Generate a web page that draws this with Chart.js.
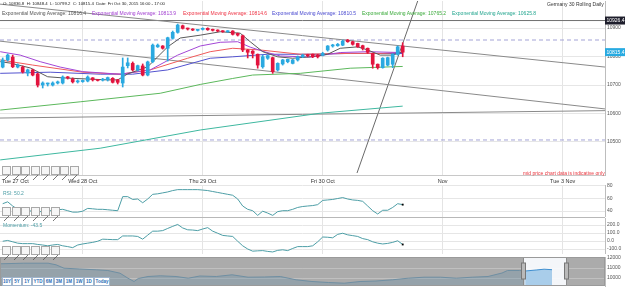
<!DOCTYPE html>
<html>
<head>
<meta charset="utf-8">
<script src="https://cdn.jsdelivr.net/npm/chart.js@4.4.0/dist/chart.umd.min.js"></script>
<style>
body { margin: 0; background: #fff; font-family: "Liberation Sans", Arial, sans-serif; }
#wrap { position: relative; width: 625px; height: 295px; overflow: hidden; }
canvas { position: absolute; left: 0; }
.t { position: absolute; white-space: nowrap; font-size: 5px; line-height: 6px; }
.sep { position: absolute; left: 0; width: 605px; background: #b8b8b8; }
.tool { position: absolute; width: 7px; height: 7px; border: 1px solid #a8a8a8; background: #f6f6f6; }
.btn { position: absolute; top: 277px; height: 7px; border: 1px solid #9fb4cc; background: #fff; color: #2a6db5; font-size: 4.5px; line-height: 7px; text-align: center; font-weight: bold; }
</style>
</head>
<body>
<div id="wrap">
  <canvas id="main" width="625" height="187" style="top:0"></canvas>
  <canvas id="rsi" width="625" height="36" style="top:181px"></canvas>
  <canvas id="mom" width="625" height="40" style="top:214px"></canvas>
  <canvas id="nav" width="625" height="42" style="top:253px"></canvas>
  <div class="sep" style="top:217px;height:1px"></div>

  <div class="t" style="left:3px;top:1px;color:#222;font-size:4.3px">O: 10836.8 &nbsp;H: 10848.4 &nbsp;L: 10799.2 &nbsp;C: 10815.4 &nbsp;Date: Fri Oct 30, 2015 16:00 - 17:00</div>
  <div class="t" style="left:547px;top:1px;color:#333">Germany 30 Rolling Daily</div>
  <div class="t" style="left:2px;top:10px;color:#555">Exponential Moving Average: 10816.4</div>
  <div class="t" style="left:92px;top:10px;color:#a03cd0">Exponential Moving Average: 10813.9</div>
  <div class="t" style="left:183px;top:10px;color:#ee3344">Exponential Moving Average: 10814.6</div>
  <div class="t" style="left:272px;top:10px;color:#4a4ad0">Exponential Moving Average: 10810.5</div>
  <div class="t" style="left:362px;top:10px;color:#3aaa3a">Exponential Moving Average: 10765.2</div>
  <div class="t" style="left:452px;top:10px;color:#22a58e">Exponential Moving Average: 10625.8</div>
  <div class="t" style="left:523px;top:170px;color:#e8343c">mid price chart data is indicative only</div>
  <div class="t" style="left:3px;top:190px;color:#4d9ea6">RSI: 50.2</div>
  <div class="t" style="left:3px;top:222px;color:#4d9ea6">Momentum: -43.5</div>
  <div id="tools"></div>
</div>

<script>
Chart.defaults.font.family = '"Liberation Sans", Arial, sans-serif';

// hourly candles, Tue 27 Oct - Fri 30 Oct 2015 (index = candle number)
const opens = [10763, 10788, 10798, 10763, 10763, 10742, 10753, 10739, 10700, 10703.5,
  10700, 10707, 10707, 10728, 10721, 10711, 10712, 10714, 10725, 10718,
  10717, 10718, 10723.5, 10718, 10707, 10768, 10776, 10753, 10767, 10735,
  10782, 10834, 10837, 10829, 10864, 10885, 10908, 10898, 10896.5, 10892,
  10895.4, 10899, 10895.4, 10893, 10889.5, 10887, 10889.5, 10881, 10873, 10823,
  10819, 10808, 10764, 10794, 10796, 10753, 10774, 10782, 10776, 10788,
  10799, 10805, 10808, 10805, 10805, 10823, 10837, 10838, 10840, 10858,
  10852, 10846, 10838, 10829, 10811, 10773, 10761, 10770, 10773, 10808, 10836.8];
const highs = [10795, 10809, 10805, 10774, 10767, 10756, 10756, 10742, 10711, 10707,
  10711, 10714, 10732, 10730, 10725, 10718, 10718, 10732, 10726, 10720,
  10723.5, 10728, 10726, 10720, 10795, 10795, 10781, 10770, 10774, 10784,
  10844, 10844, 10838.5, 10868, 10889.5, 10914, 10910.5, 10900, 10898, 10895.4,
  10901, 10901, 10896.5, 10894, 10891, 10891, 10891, 10882.5, 10875.4, 10824.5,
  10821, 10809, 10805, 10805, 10798, 10778, 10790, 10791, 10790, 10802,
  10808, 10808, 10809, 10808, 10815, 10838.5, 10843, 10846, 10858, 10860,
  10854, 10847, 10840, 10830, 10812, 10774, 10796, 10798, 10810, 10837, 10848.4];
const lows = [10760, 10784, 10761, 10760, 10742, 10732, 10732, 10693, 10689.5, 10696.5,
  10696.5, 10703.5, 10703.5, 10721, 10707, 10707, 10709.5, 10711, 10714, 10714,
  10714, 10714, 10707, 10703.5, 10693, 10760, 10749, 10749, 10732, 10732,
  10778, 10832, 10826, 10784, 10861, 10882, 10896.5, 10893, 10891, 10889.5,
  10893, 10892, 10889.5, 10887, 10885, 10885, 10875.4, 10872, 10817, 10795,
  10795, 10759, 10759, 10790, 10741, 10749, 10770, 10778, 10774, 10784,
  10796, 10799, 10796, 10795, 10802, 10819, 10833, 10836, 10838, 10850,
  10840, 10832, 10823, 10811, 10759, 10756, 10759, 10767, 10761, 10805, 10799.2];
const closes = [10788, 10805, 10764, 10770, 10746, 10753, 10735, 10700, 10707, 10705,
  10707, 10711, 10728, 10725, 10711, 10714, 10716, 10728, 10718, 10716,
  10720, 10726, 10709.5, 10709.5, 10763, 10778, 10753, 10768, 10735, 10781,
  10840, 10840, 10829, 10866, 10885, 10910.5, 10899, 10896.5, 10893, 10894,
  10899, 10894, 10892, 10889.5, 10887, 10889.5, 10878, 10875.4, 10823, 10815,
  10811, 10770, 10799, 10803, 10747, 10776, 10788, 10790, 10788, 10799,
  10805, 10803, 10799, 10799, 10811, 10837, 10840, 10843, 10854, 10852,
  10843, 10834, 10829, 10815, 10773, 10761, 10794, 10796, 10808, 10834, 10815.4];

// moving averages, read at candle positions
const emaGrayX = [-0.5, 1.5, 5.5, 9, 12, 17, 21, 23, 25, 29, 31, 33, 35.5, 39.5, 43.5, 47.5, 49.5, 52, 55, 58, 61.5, 65, 67.5, 71, 73, 75.5, 78, 80];
const emaGray = [10782, 10777, 10760, 10729, 10725, 10721, 10718, 10718, 10739, 10764, 10799, 10834, 10865, 10875, 10887, 10882, 10852, 10817, 10799, 10794, 10799, 10808, 10829, 10834, 10823, 10805, 10805, 10816.4];
const emaPurpleX = [-0.5, 3.5, 7.5, 11.5, 16, 23.5, 29.5, 35, 39.5, 43.5, 47, 49.5, 52.5, 55.5, 61.5, 67.5, 73, 80];
const emaPurple = [10817, 10805, 10782, 10763, 10747, 10738, 10753, 10805, 10837, 10850, 10852, 10833, 10816, 10802, 10798, 10814, 10817, 10813.9];
const emaRedX = [-0.5, 6, 16, 23.5, 29.5, 37, 41.5, 46, 51.5, 59.5, 69.5, 76, 80];
const emaRed = [10788, 10770, 10745, 10738, 10753, 10794, 10817, 10829, 10823, 10808, 10811, 10811, 10814.6];
const emaBlueX = [-0.5, 9.5, 19.5, 26, 33, 41.5, 46, 53, 63, 69.5, 80];
const emaBlue = [10741, 10745, 10738, 10738, 10753, 10794, 10799, 10808, 10808, 10811, 10810.5];
const emaGreenX = [-0.5, 15.5, 31.5, 39.5, 46, 50, 59.5, 69.5, 80];
const emaGreen = [10612, 10641, 10671, 10702, 10723, 10735, 10741, 10759, 10765.2];
const emaTealX = [-0.5, 19.5, 39.5, 63.5, 80];
const emaTeal = [10437, 10478, 10542, 10601, 10625.8];

// drawn trend lines [candle index, price]
const trendA = [[-0.54, 10984], [120.46, 10763]];
const trendB = [[-0.54, 10854], [120.46, 10616]];
const trendC = [[-0.54, 10584], [120.46, 10610]];
const trendD = [[70.86, 10391], [83.06, 10998]];
const hLevel = 10926.4;
const dashedLevels = [10858, 10507];

// indicators, one value per candle
const rsi = [51.7, 54.7, 48, 42.7, 40.5, 40.5, 39.7, 38.2, 39.7, 40.5,
  40.5, 42, 42.7, 40.5, 38.2, 38.2, 39.7, 44.2, 43.5, 42.7,
  42.7, 42, 41.2, 40.5, 63, 63, 58.5, 59.2, 53.2, 59.2,
  66.7, 67.5, 69, 70.5, 72.7, 74.2, 74.2, 74.2, 74.2, 74.2,
  73.5, 72.7, 71.2, 69.7, 68.2, 66.7, 65.2, 59.2, 48, 42.7,
  40.5, 33, 39.7, 36.7, 33, 39, 40.5, 40.5, 42.7, 45.7,
  47.2, 48, 48.7, 50.2, 57, 57.7, 58.5, 60, 61.5, 59.2,
  57.7, 57, 55.5, 48, 40.5, 35.2, 41.2, 41.2, 45.7, 51.7, 50.2];
const momentum = [-3, 7, -10, -27, -33, -33, -33, -43, -50, -60,
  -50, -43, -60, -70, -83, -50, -37, -27, -17, -3,
  23, 20, 17, 17, 63, 63, 63, 57, 23, 73,
  123, 123, 130, 157, 183, 207, 163, 140, 137, 130,
  150, 167, 123, 97, 70, 63, 57, -3, -60, -100,
  -127, -123, -120, -130, -137, -117, -110, -120, -93, -70,
  -70, -70, -60, -10, 50, 47, 40, 83, 97, 77,
  67, 57, 30, 17, -10, -27, -37, -30, -17, 3, -43.5];

// navigator: days since 1 Aug 2015, daily level
const navDays = [1.1, 5, 9, 10.3, 11.6, 14.2, 16.9, 18.8, 20.8, 22.1, 23.1, 23.8, 25.4, 27.4, 30, 32, 33.9, 36.6, 39.2, 41.8,
  44.5, 47.1, 49.7, 52.3, 55, 57.6, 60.2, 62.8, 65.5, 68.1, 70.7, 73.4, 76, 78.6, 81.2, 83.5, 84.4, 86.4, 87.3, 89.1, 90.4, 91.7];
const navVals = [11420, 11480, 11480, 11320, 10980, 10900, 10820, 10750, 10480, 9980, 9650, 9950, 10150, 10220, 10150, 9980, 10200, 10150, 10320, 10080,
  10100, 10150, 9820, 9650, 9550, 9480, 9650, 9700, 9820, 9980, 10080, 10080, 9980, 10080, 10150, 10500, 10750, 10750, 10700, 10800, 10880, 10830];
const navWindow = [87, 94];

// axis ticks and labels
const dayTicks = [2.5, 16, 40, 64, 88, 112];
const dayLabels = ['Tue 27 Oct', 'Wed 28 Oct', 'Thu 29 Oct', 'Fri 30 Oct', 'Nov', 'Tue 3 Nov'];
const priceTicks = [10500, 10600, 10700, 10800, 10900];
const rsiTicks = [40, 60, 80];
const momTicks = [-100, 0, 100, 200];
const navTicks = [10000, 11000, 12000];
const navDateTicks = [2, 8, 15, 22, 31, 36, 43, 50, 57, 61, 64, 71, 78, 85, 92, 99];
const navDateLabels = ['2015', '9-Aug', '16-Aug', '23-Aug', 'Sep', '6-Sep', '13-Sep', '20-Sep', '27-Sep', 'Oct', '4-Oct', '11-Oct', '18-Oct', '25-Oct', 'Nov', '8-Nov'];

const UP = '#2aa9e0', DOWN = '#e2143e', TEAL = '#4d9ea6';
const xMin = -0.54, xMax = 120.46;
const idx = closes.map((c, i) => i);

function pts(xs, ys) { return xs.map((x, k) => ({ x: x, y: ys[k] })); }
function seg(p) { return p.map(q => ({ x: q[0], y: q[1] })); }
function line(data, color, extra) {
  return Object.assign({ type: 'line', data: data, borderColor: color, borderWidth: 1, pointRadius: 0, tension: 0, fill: false, order: 5 }, extra || {});
}
// no extra room for the edge labels, the panels sit flush
function noPad(s) { s.paddingTop = 0; s.paddingBottom = 0; s.paddingLeft = 0; s.paddingRight = 0; }

function xScale(show, h) {
  return {
    type: 'linear', min: xMin, max: xMax, offset: false,
    afterBuildTicks: s => { s.ticks = dayTicks.map(v => ({ value: v })); },
    afterFit: s => { s.height = h; noPad(s); },
    grid: { color: c => (c.tick && c.tick.value === dayTicks[0]) ? 'rgba(0,0,0,0)' : '#e4e4e4', drawTicks: false, offset: false },
    border: { display: show, color: '#c8c8c8' },
    ticks: { display: show, autoSkip: false, maxRotation: 0, padding: 3, color: '#333', font: { size: 5.5 },
      callback: v => dayLabels[dayTicks.indexOf(v)] }
  };
}
function yScale(min, max, ticks, fmt) {
  return {
    position: 'right', min: min, max: max,
    afterBuildTicks: s => { s.ticks = ticks.map(v => ({ value: v })); },
    afterFit: s => { s.width = 20; noPad(s); },
    grid: { color: '#e6e6e6', drawTicks: false },
    border: { color: '#bdbdbd' },
    ticks: { padding: 2, color: '#555', font: { size: 5 }, callback: fmt }
  };
}
function opts(top, scales) {
  return {
    responsive: false, animation: false,
    layout: { padding: { top: top, left: 0, right: 0, bottom: 0 }, autoPadding: false },
    plugins: { legend: { display: false }, tooltip: { enabled: false } },
    scales: scales
  };
}

// price boxes on the right axis
const priceTags = {
  id: 'priceTags',
  afterDraw(chart) {
    const { ctx, chartArea, scales } = chart;
    [[hLevel, '#1e1e2c'], [closes[closes.length - 1], '#27aae1']].forEach(t => {
      const py = scales.y.getPixelForValue(t[0]);
      ctx.save();
      ctx.fillStyle = t[1];
      ctx.fillRect(chartArea.right, py - 4, 20, 8);
      ctx.fillStyle = '#fff';
      ctx.font = '5px "Liberation Sans"';
      ctx.textBaseline = 'middle';
      ctx.fillText(t[0].toFixed(1), chartArea.right + 1.5, py + 0.5);
      ctx.restore();
    });
  }
};

const candleColor = i => closes[i] >= opens[i] ? UP : DOWN;

new Chart(document.getElementById('main'), {
  type: 'bar',
  data: {
    datasets: [
      { data: idx.map(i => ({ x: i, y: [opens[i], closes[i]] })), backgroundColor: idx.map(candleColor),
        barThickness: 3, minBarLength: 1, grouped: false, order: 0 },
      { data: idx.map(i => ({ x: i, y: [lows[i], highs[i]] })), backgroundColor: idx.map(candleColor),
        barThickness: 1, grouped: false, order: 1 },
      line(pts(emaGrayX, emaGray), '#5a5a5a', { order: 2 }),
      line(pts(emaPurpleX, emaPurple), '#a347d6', { order: 3 }),
      line(pts(emaRedX, emaRed), '#f05a5a', { order: 3 }),
      line(pts(emaBlueX, emaBlue), '#5353cf', { order: 3 }),
      line(pts(emaGreenX, emaGreen), '#5cb85c', { order: 3 }),
      line(pts(emaTealX, emaTeal), '#3fb8a0', { order: 3 }),
      line(seg(trendA), '#8a8a8a', { order: 6 }),
      line(seg(trendB), '#8a8a8a', { order: 6 }),
      line(seg(trendC), '#8a8a8a', { order: 6 }),
      line(seg(trendD), '#6a6a6a', { order: 6 }),
      line(seg([[xMin, hLevel], [xMax, hLevel]]), '#707070', { order: 6 }),
      ...dashedLevels.map(v => line(seg([[xMin, v], [xMax, v]]), '#a3a3d6', { order: 7, borderDash: [4, 3] }))
    ]
  },
  options: opts(1, { x: xScale(true, 12), y: yScale(10384, 10995, priceTicks, v => String(v)) }),
  plugins: [priceTags]
});

function indicator(id, values, min, max, ticks, fmt) {
  const last = values.length - 1;
  new Chart(document.getElementById(id), {
    type: 'line',
    data: { datasets: [{
      data: values.map((v, i) => ({ x: i, y: v })), borderColor: TEAL, borderWidth: 1, tension: 0,
      pointStyle: 'rect', pointRadius: c => c.dataIndex === last ? 1.3 : 0,
      pointBackgroundColor: '#000', pointBorderColor: '#000', pointBorderWidth: 0
    }] },
    options: opts(4, { x: xScale(false, 0), y: yScale(min, max, ticks, fmt) })
  });
}
indicator('rsi', rsi, 30.4, 81.6, rsiTicks, v => String(v));
indicator('mom', momentum, -162.5, 287.5, momTicks, v => v.toFixed(1));

// navigator background, window and handles
const navMask = {
  id: 'navMask',
  beforeDraw(chart) {
    const { ctx, chartArea: a, scales: { x } } = chart;
    const x0 = x.getPixelForValue(navWindow[0]), x1 = x.getPixelForValue(navWindow[1]);
    ctx.save();
    ctx.fillStyle = '#ababab';
    ctx.fillRect(a.left, a.top, a.width, a.height);
    ctx.fillStyle = '#f4f6f9';
    ctx.fillRect(x0, a.top, x1 - x0, a.height);
    ctx.restore();
  },
  afterDatasetsDraw(chart) {
    const { ctx, chartArea: a, scales: { x } } = chart;
    ctx.save();
    navWindow.forEach(d => {
      const px = Math.round(x.getPixelForValue(d)) + 0.5;
      ctx.strokeStyle = '#8c8c8c';
      ctx.beginPath(); ctx.moveTo(px, a.top); ctx.lineTo(px, a.bottom); ctx.stroke();
      ctx.fillStyle = '#b9b9b9';
      ctx.strokeStyle = '#777';
      ctx.fillRect(px - 2, a.top + 6, 4, 16);
      ctx.strokeRect(px - 2, a.top + 6, 4, 16);
    });
    ctx.strokeStyle = '#9a9a9a';
    ctx.strokeRect(a.left + 0.5, a.top + 0.5, a.width - 1, a.height - 1);
    ctx.restore();
  }
};

const outWin = navDays.map((d, k) => k).filter(k => navDays[k] <= navWindow[0] + 0.3);
const inWin = navDays.map((d, k) => k).filter(k => navDays[k] >= navWindow[0]);
new Chart(document.getElementById('nav'), {
  type: 'line',
  data: { datasets: [
    { data: outWin.map(k => ({ x: navDays[k], y: navVals[k] })), borderColor: '#6f8fa3', borderWidth: 1,
      backgroundColor: 'rgba(110,145,168,0.35)', fill: 'start', pointRadius: 0, tension: 0 },
    { data: inWin.map(k => ({ x: navDays[k], y: navVals[k] })), borderColor: '#3f8fd0', borderWidth: 1,
      backgroundColor: '#a9cdea', fill: 'start', pointRadius: 0, tension: 0 }
  ] },
  options: opts(4, {
    x: {
      type: 'linear', min: 1.1, max: 100.4, offset: false,
      afterBuildTicks: s => { s.ticks = navDateTicks.map(v => ({ value: v })); },
      afterFit: s => { s.height = 9; noPad(s); },
      grid: { display: false },
      border: { display: false },
      ticks: { autoSkip: false, maxRotation: 0, padding: 2, color: '#333', font: { size: 5 },
        callback: v => navDateLabels[navDateTicks.indexOf(v)] }
    },
    y: Object.assign(yScale(9200, 12100, navTicks, v => String(v)), {
      grid: { color: 'rgba(255,255,255,0.25)', drawTicks: false }
    })
  }),
  plugins: [navMask]
});

// drawing tool buttons and range selector
const tools = document.getElementById('tools');
function toolRow(top, count) {
  for (let k = 0; k < count; k++) {
    const b = document.createElement('div');
    b.className = 'tool';
    b.style.left = (2 + k * 9.7) + 'px';
    b.style.top = top + 'px';
    b.innerHTML = '<svg width="7" height="7"><line x1="1" y1="6" x2="6" y2="1" stroke="#555" stroke-width="0.8"/></svg>';
    tools.appendChild(b);
  }
}
toolRow(166, 8);
toolRow(207, 6);
toolRow(246, 6);

const ranges = ['10Y', '5Y', '1Y', 'YTD', '6M', '3M', '1M', '1W', '1D', 'Today'];
let bx = 2;
ranges.forEach(r => {
  const b = document.createElement('div');
  b.className = 'btn';
  const w = r === 'Today' ? 14 : (r === 'YTD' ? 10 : 8);
  b.style.left = bx + 'px';
  b.style.width = w + 'px';
  b.textContent = r;
  tools.appendChild(b);
  bx += w + 2;
});
</script>
</body>
</html>
